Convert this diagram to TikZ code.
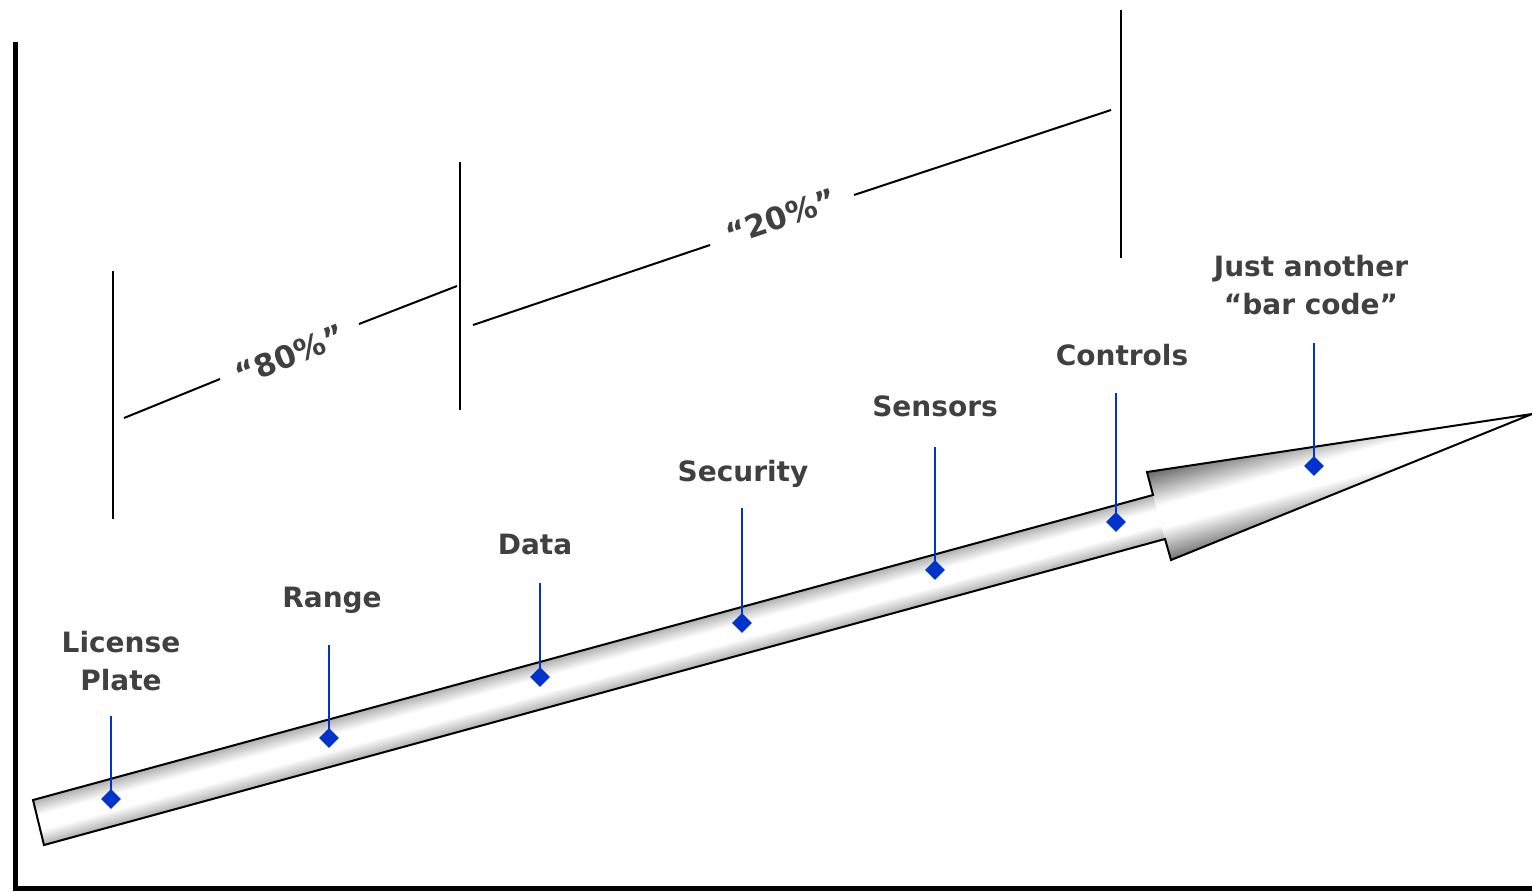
\documentclass[tikz,border=0pt]{standalone}
\usepackage{fontspec}
\setmainfont{DejaVu Sans}
\usetikzlibrary{shapes.geometric}
\definecolor{txt}{RGB}{64,64,64}
\definecolor{pin}{RGB}{0,51,204}
\definecolor{shaftedge}{RGB}{175,175,175}
\definecolor{headedge}{RGB}{110,110,110}
\pgfdeclareverticalshading{bandshaft}{100bp}{color(0bp)=(shaftedge); color(25bp)=(shaftedge); color(42bp)=(white); color(58bp)=(white); color(75bp)=(shaftedge); color(100bp)=(shaftedge)}
\pgfdeclareverticalshading{bandhead}{100bp}{color(0bp)=(headedge); color(25bp)=(headedge); color(44bp)=(white); color(56bp)=(white); color(75bp)=(headedge); color(100bp)=(headedge)}
\begin{document}
\begin{tikzpicture}[x=0.5pt,y=-0.5pt,
  lbl/.style={font=\fontsize{14}{19}\selectfont\bfseries, text=txt, align=center, inner sep=0pt},
  pct/.style={font=\fontsize{15.5}{18}\selectfont\bfseries, text=txt, inner sep=0pt},
  pinline/.style={draw=pin, line width=1pt},
  pinhead/.style={diamond, fill=pin, inner sep=0pt, minimum width=10pt, minimum height=10pt},
  tickline/.style={draw=black, line width=1pt},
  dimline/.style={draw=black, line width=1pt},
  frameline/.style={draw=black, line width=2.75pt, line join=miter},
  arrowline/.style={draw=black, line width=1pt, line join=miter}]
\useasboundingbox (0,0) rectangle (1532,891);
% frame
\coordinate (ftop) at (15.5,42);
\coordinate (forig) at (15.5,888.5);
\coordinate (fright) at (1534,888.5);
\draw[frameline] (ftop) -- (forig) -- (fright);
% arrow
\coordinate (s1) at (33,800);
\coordinate (s2) at (1153,495);
\coordinate (h1) at (1147,472);
\coordinate (tip) at (1532,414);
\coordinate (h2) at (1171,560);
\coordinate (s3) at (1165,539);
\coordinate (s4) at (44,845);
\begin{scope}
  \clip (s1) -- (s2) -- (s3) -- (s4) -- cycle;
  \begin{scope}[transform canvas={shift={(38.5,822.5)}, rotate=15.25}]
    \shade[shading=bandshaft] (-40,-23.2) rectangle (1200,23.2);
  \end{scope}
\end{scope}
\begin{scope}
  \clip (s2) -- (h1) -- (tip) -- (h2) -- (s3) -- cycle;
  \begin{scope}[transform canvas={shift={(1159,517)}, rotate=15.25}]
    \shade[shading=bandhead] (-40,-45.5) rectangle (420,45.5);
  \end{scope}
\end{scope}
\draw[arrowline] (s1) -- (s2) -- (h1) -- (tip) -- (h2) -- (s3) -- (s4) -- cycle;
% ticks
\coordinate (t1a) at (113,271); \coordinate (t1b) at (113,519);
\coordinate (t2a) at (460,162); \coordinate (t2b) at (460,410);
\coordinate (t3a) at (1121,10); \coordinate (t3b) at (1121,258);
\draw[tickline] (t1a) -- (t1b);
\draw[tickline] (t2a) -- (t2b);
\draw[tickline] (t3a) -- (t3b);
% dimension lines
\coordinate (d1a) at (124,418); \coordinate (d1b) at (220,379);
\coordinate (d1c) at (359,324); \coordinate (d1d) at (457,286);
\coordinate (d2a) at (473,325); \coordinate (d2b) at (710,245);
\coordinate (d2c) at (854,195); \coordinate (d2d) at (1111,110);
\draw[dimline] (d1a) -- (d1b);
\draw[dimline] (d1c) -- (d1d);
\draw[dimline] (d2a) -- (d2b);
\draw[dimline] (d2c) -- (d2d);
\node[pct, rotate=21.6] (p80) at (290,355) {“80\%”};
\node[pct, rotate=18.6] (p20) at (781,217) {“20\%”};
% labels
\node[lbl] (lp) at (121,661) {License\\Plate};
\node[lbl, anchor=base] (rg) at (332,607) {Range};
\node[lbl, anchor=base] (dt) at (535,554) {Data};
\node[lbl, anchor=base] (sc) at (743,481) {Security};
\node[lbl, anchor=base] (sn) at (935,416) {Sensors};
\node[lbl, anchor=base] (ct) at (1122,365) {Controls};
\node[lbl] (bc) at (1311,285) {Just another\\“bar code”};
% pins
\coordinate (lpt) at (111,716); \coordinate (lpp) at (111,799);
\coordinate (rgt) at (329,645); \coordinate (rgp) at (329,738);
\coordinate (dtt) at (540,583); \coordinate (dtp) at (540,677);
\coordinate (sct) at (742,508); \coordinate (scp) at (742,623);
\coordinate (snt) at (935,447); \coordinate (snp) at (935,570);
\coordinate (ctt) at (1116,393); \coordinate (ctp) at (1116,522);
\coordinate (bct) at (1314,343); \coordinate (bcp) at (1314,466);
\draw[pinline] (lpt) -- (lpp);
\draw[pinline] (rgt) -- (rgp);
\draw[pinline] (dtt) -- (dtp);
\draw[pinline] (sct) -- (scp);
\draw[pinline] (snt) -- (snp);
\draw[pinline] (ctt) -- (ctp);
\draw[pinline] (bct) -- (bcp);
\node[pinhead] (lpd) at (lpp) {};
\node[pinhead] (rgd) at (rgp) {};
\node[pinhead] (dtd) at (dtp) {};
\node[pinhead] (scd) at (scp) {};
\node[pinhead] (snd) at (snp) {};
\node[pinhead] (ctd) at (ctp) {};
\node[pinhead] (bcd) at (bcp) {};
\end{tikzpicture}
\end{document}
